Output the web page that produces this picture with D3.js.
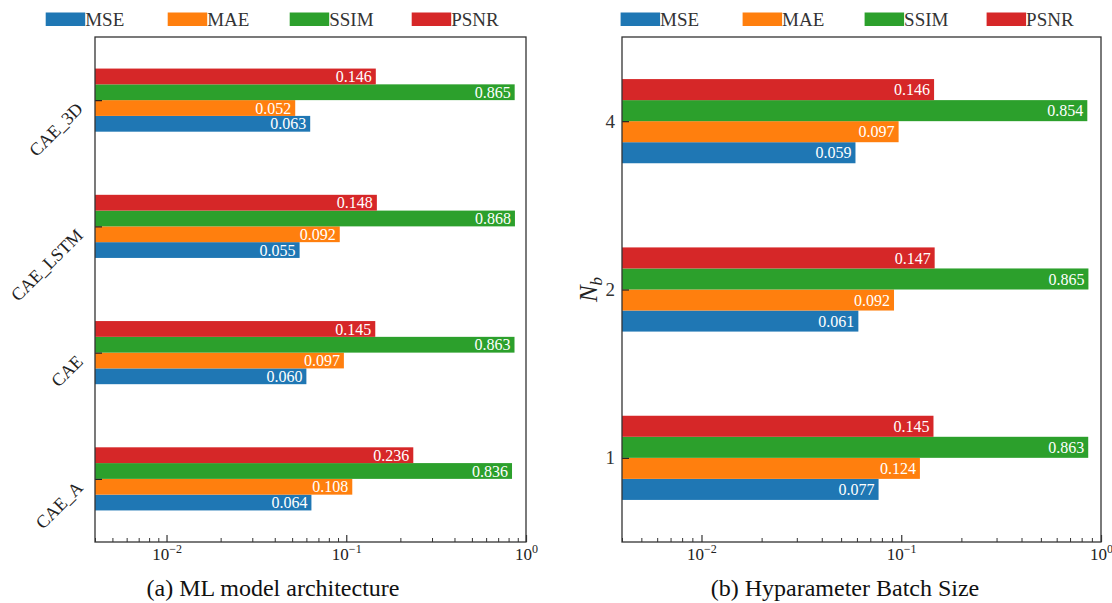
<!DOCTYPE html>
<html>
<head>
<meta charset="utf-8">
<script src="https://cdn.jsdelivr.net/npm/d3@7"></script>
<style>
  body { margin: 0; background: #fff; }
  svg text { font-family: "Liberation Serif", "Times New Roman", Tinos, "DejaVu Serif", serif; }
</style>
</head>
<body>
<div id="chart"></div>
<script>
// metrics / legend
const metrics = ['MSE', 'MAE', 'SSIM', 'PSNR'];
const colors = ['#1f77b4', '#ff7f0e', '#2ca02c', '#d62728'];

// (a) model architecture, bottom to top
const archCategories = ['CAE_A', 'CAE', 'CAE_LSTM', 'CAE_3D'];
const archMSE = [0.064, 0.060, 0.055, 0.063];
const archMAE = [0.108, 0.097, 0.092, 0.052];
const archSSIM = [0.836, 0.863, 0.868, 0.865];
const archPSNR = [0.236, 0.145, 0.148, 0.146];

// (b) batch size, bottom to top
const batchCategories = ['1', '2', '4'];
const batchMSE = [0.077, 0.061, 0.059];
const batchMAE = [0.124, 0.092, 0.097];
const batchSSIM = [0.863, 0.865, 0.854];
const batchPSNR = [0.145, 0.147, 0.146];

const xTickValues = [0.01, 0.1, 1];
const xTickExponents = ['\u22122', '\u22121', '0'];

const width = 1112, height = 603;
const serif = '"Liberation Serif", "Times New Roman", Tinos, "DejaVu Serif", serif';
const svg = d3.select('#chart').append('svg')
    .attr('width', width)
    .attr('height', height)
    .attr('font-family', serif);

function drawPanel(p) {
    const x = d3.scaleLog().domain([0.004, 1]).range([p.left, p.right]).clamp(true);
    const n = p.categories.length;
    const y = d3.scaleLinear().domain([-0.5, n - 0.5]).range([p.bottom, p.top]);
    const barH = 0.125;
    const unit = Math.abs(y(0) - y(1));
    const series = [p.mse, p.mae, p.ssim, p.psnr];

    const g = svg.append('g');

    // bars
    series.forEach((vals, si) => {
        const off = (si - 1.5) * barH;
        const sg = g.append('g').attr('fill', colors[si]);
        sg.selectAll('rect')
          .data(vals)
          .enter().append('rect')
          .attr('x', p.left)
          .attr('y', (d, i) => y(i + off + barH / 2))
          .attr('width', d => x(d) - p.left)
          .attr('height', barH * unit);

        g.append('g').selectAll('text')
          .data(vals)
          .enter().append('text')
          .attr('x', d => x(d) - 4)
          .attr('y', (d, i) => y(i + off))
          .attr('dy', '0.35em')
          .attr('text-anchor', 'end')
          .attr('fill', '#fff')
          .attr('font-family', serif)
          .attr('font-size', 16)
          .text(d => d3.format('.3f')(d));
    });

    // x axis: major + minor ticks pointing inwards
    const minors = [];
    [0.001, 0.01, 0.1].forEach(b => {
        for (let k = 2; k <= 9; k++) {
            const v = b * k;
            if (v >= 0.004 && v <= 1) minors.push(v);
        }
    });
    g.append('g')
     .attr('transform', `translate(0,${p.bottom})`)
     .call(d3.axisBottom(x).tickValues(minors).tickSize(-4).tickFormat(''))
     .call(a => a.select('.domain').remove())
     .selectAll('line').attr('stroke', '#333').attr('stroke-width', 1);

    const xa = g.append('g')
     .attr('transform', `translate(0,${p.bottom})`)
     .call(d3.axisBottom(x).tickValues(xTickValues).tickSize(-7).tickFormat(''));
    xa.select('.domain').remove();
    xa.selectAll('line').attr('stroke', '#333').attr('stroke-width', 1.2);
    xa.selectAll('.tick').append('text')
      .attr('y', 18)
      .attr('fill', '#222')
      .attr('font-family', serif)
      .attr('font-size', 17)
      .attr('text-anchor', 'middle')
      .each(function(d, i) {
          const t = d3.select(this);
          t.append('tspan').text('10');
          t.append('tspan').attr('dy', -7).attr('font-size', 12).text(xTickExponents[i]);
      });

    // y axis ticks
    const ya = g.append('g')
     .attr('transform', `translate(${p.left},0)`)
     .call(d3.axisLeft(y).tickValues(d3.range(n)).tickSize(-7).tickFormat(''));
    ya.select('.domain').remove();
    ya.selectAll('line').attr('stroke', '#222').attr('stroke-width', 1.2);

    if (p.rotateLabels) {
        g.append('g').selectAll('text')
         .data(p.categories)
         .enter().append('text')
         .attr('transform', (d, i) => `translate(${p.left - 11},${y(i) + 10}) rotate(-45)`)
         .attr('text-anchor', 'end')
         .attr('font-size', 18)
         .attr('fill', '#222')
         .text(d => d);
    } else {
        g.append('g').selectAll('text')
         .data(p.categories)
         .enter().append('text')
         .attr('x', p.left - 7)
         .attr('y', (d, i) => y(i))
         .attr('dy', '0.35em')
         .attr('text-anchor', 'end')
         .attr('font-size', 19)
         .attr('fill', '#333')
         .text(d => d);
    }

    if (p.yTitle) {
        const t = g.append('text')
         .attr('transform', `translate(${p.left - 25},${(p.top + p.bottom) / 2}) rotate(-90)`)
         .attr('text-anchor', 'middle')
         .attr('font-size', 25)
         .attr('font-style', 'italic')
         .attr('fill', '#222');
        t.append('tspan').text('N');
        t.append('tspan').attr('dy', 5).attr('font-size', 17).text('b');
    }

    // frame
    g.append('rect')
     .attr('x', p.left).attr('y', p.top)
     .attr('width', p.right - p.left).attr('height', p.bottom - p.top)
     .attr('fill', 'none').attr('stroke', '#333').attr('stroke-width', 1.3);

    // legend
    const lg = g.append('g');
    metrics.forEach((m, i) => {
        const lx = p.legendX + i * 122;
        lg.append('rect')
          .attr('x', lx).attr('y', 12.5)
          .attr('width', 39.5).attr('height', 13.5)
          .attr('fill', colors[i]);
        lg.append('text')
          .attr('x', lx + 39.5).attr('y', 26)
          .attr('font-size', 19)
          .attr('fill', '#333')
          .text(m);
    });

    // caption
    g.append('text')
     .attr('x', p.captionX).attr('y', 596)
     .attr('text-anchor', 'middle')
     .attr('font-size', 24)
     .attr('fill', '#111')
     .text(p.caption);
}

drawPanel({
    left: 95, right: 526, top: 37, bottom: 542,
    categories: archCategories,
    mse: archMSE, mae: archMAE, ssim: archSSIM, psnr: archPSNR,
    rotateLabels: true,
    legendX: 45.7,
    caption: '(a) ML model architecture', captionX: 273
});

drawPanel({
    left: 622, right: 1101, top: 37, bottom: 542,
    categories: batchCategories,
    mse: batchMSE, mae: batchMAE, ssim: batchSSIM, psnr: batchPSNR,
    rotateLabels: false,
    yTitle: true,
    legendX: 620.6,
    caption: '(b) Hyparameter Batch Size', captionX: 845
});
</script>
</body>
</html>
